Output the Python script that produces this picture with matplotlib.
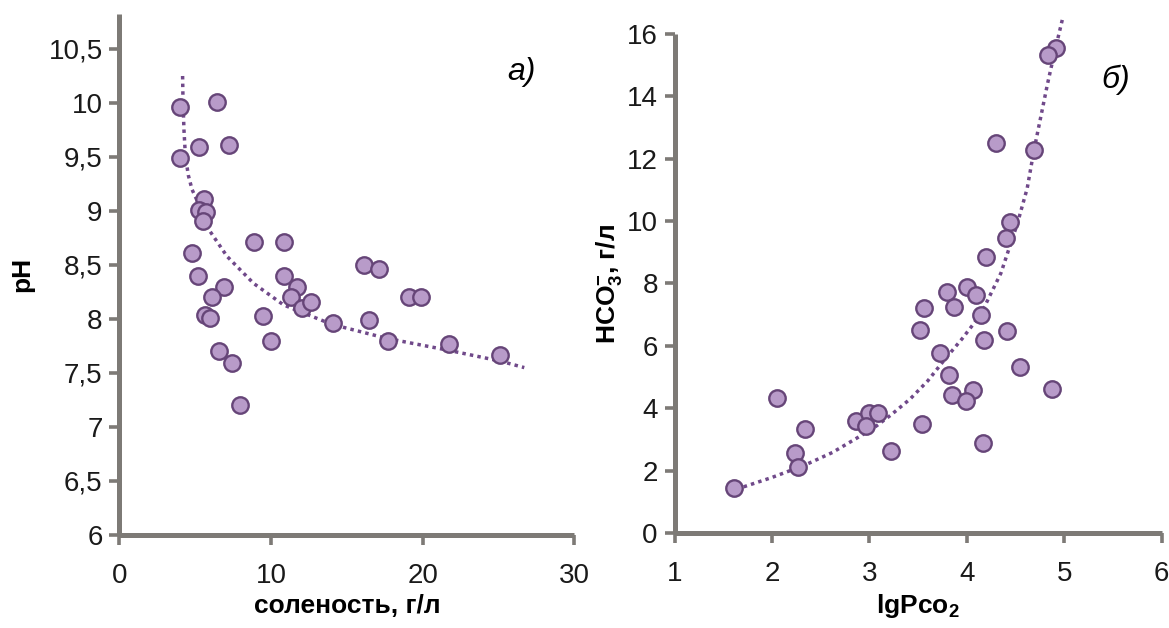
import matplotlib
matplotlib.use("Agg")
import matplotlib.pyplot as plt

plt.rcParams['font.family'] = ['Liberation Sans', 'DejaVu Sans']
plt.rcParams['mathtext.fontset'] = 'custom'
plt.rcParams['mathtext.rm'] = 'Liberation Sans'
plt.rcParams['mathtext.bf'] = 'Liberation Sans:bold'
plt.rcParams['mathtext.it'] = 'Liberation Sans:italic'

# --- panel a: pH vs salinity ---
salinity = [4.00, 6.44, 5.23, 7.21, 4.02, 5.56, 5.23, 5.74, 5.52, 8.85,
            10.83, 4.79, 5.16, 10.88, 6.88, 11.71, 6.11, 11.32, 5.67, 6.00,
            12.04, 9.45, 10.02, 6.55, 7.43, 7.93, 12.66, 14.06, 16.11, 17.09,
            16.48, 19.07, 19.89, 17.69, 21.71, 25.12]
ph = [9.96, 10.01, 9.59, 9.61, 9.49, 9.11, 9.01, 8.99, 8.91, 8.71,
      8.71, 8.61, 8.40, 8.40, 8.30, 8.30, 8.20, 8.20, 8.04, 8.01,
      8.10, 8.03, 7.80, 7.70, 7.59, 7.20, 8.16, 7.96, 8.50, 8.46,
      7.99, 8.20, 8.20, 7.80, 7.77, 7.67]

trend_a_x = [4.17, 4.20, 4.26, 4.36, 4.55, 4.79, 5.34, 5.89, 7.10, 8.85,
             10.83, 14.02, 17.65, 21.71, 25.12, 26.70]
trend_a_y = [10.25, 10.00, 9.75, 9.50, 9.33, 9.20, 9.03, 8.83, 8.58, 8.33,
             8.13, 7.95, 7.82, 7.71, 7.61, 7.55]

ph_ticks = [6, 6.5, 7, 7.5, 8, 8.5, 9, 9.5, 10, 10.5]
ph_labels = ['6', '6,5', '7', '7,5', '8', '8,5', '9', '9,5', '10', '10,5']
sal_ticks = [0, 10, 20, 30]

# --- panel b: HCO3 vs lgPco2 ---
lgpco2 = [1.615, 2.051, 2.335, 2.240, 2.267, 2.864, 2.994, 3.090, 2.970, 3.217,
          4.915, 4.829, 4.304, 4.690, 4.445, 4.400, 4.194, 3.793, 3.999, 4.092,
          3.868, 3.560, 4.143, 3.519, 4.410, 4.177, 3.721, 4.547, 3.817, 4.068,
          3.852, 3.996, 4.870, 3.543, 4.167]
hco3 = [1.43, 4.34, 3.32, 2.57, 2.13, 3.59, 3.86, 3.84, 3.43, 2.63,
        15.54, 15.33, 12.49, 12.28, 9.98, 9.45, 8.86, 7.72, 7.88, 7.63,
        7.24, 7.20, 6.99, 6.51, 6.48, 6.19, 5.78, 5.33, 5.07, 4.58,
        4.42, 4.23, 4.62, 3.48, 2.90]

trend_b_x = [1.71, 2.00, 2.34, 2.62, 2.87, 3.05, 3.22, 3.42, 3.60, 3.77,
             3.95, 4.14, 4.35, 4.52, 4.62, 4.69, 4.76, 4.83, 4.90, 4.98]
trend_b_y = [1.48, 1.78, 2.18, 2.58, 3.04, 3.38, 3.78, 4.30, 4.88, 5.55,
             6.22, 6.99, 8.33, 9.93, 11.05, 12.28, 13.35, 14.42, 15.40, 16.45]

hco3_ticks = [0, 2, 4, 6, 8, 10, 12, 14, 16]
pco2_ticks = [1, 2, 3, 4, 5, 6]

axis_gray = '#7d7a76'
fill_col = '#b89bc9'
edge_col = '#664578'
line_col = '#70498a'

fig = plt.figure(figsize=(11.69, 6.28), dpi=100)
ax1 = fig.add_axes([0.1021, 0.1481, 0.3892, 0.8296])
ax2 = fig.add_axes([0.5770, 0.1513, 0.4167, 0.7946])


def style(ax):
    for s in ('top', 'right'):
        ax.spines[s].set_visible(False)
    for s in ('left', 'bottom'):
        ax.spines[s].set_color(axis_gray)
        ax.spines[s].set_linewidth(3.6)
        ax.spines[s].set_capstyle('butt')
    ax.tick_params(axis='both', direction='out', length=7, width=2.6,
                   color=axis_gray, labelsize=20, labelcolor='#1a1a1a')
    ax.tick_params(axis='x', pad=13)
    ax.tick_params(axis='y', pad=5)
    ax.set_facecolor('none')


style(ax1)
ax1.plot(trend_a_x, trend_a_y, color=line_col, lw=2.5,
         linestyle=(0, (1, 1.2)), dash_capstyle='butt', zorder=2, clip_on=False)
ax1.scatter(salinity, ph, s=140, color=fill_col, edgecolor=edge_col,
            linewidth=1.7, zorder=3, clip_on=False)
ax1.set_xlim(0, 30)
ax1.set_ylim(6, 10.824)
ax1.set_xticks(sal_ticks)
ax1.set_xticklabels([str(t) for t in sal_ticks])
ax1.set_yticks(ph_ticks)
ax1.set_yticklabels(ph_labels)
ax1.set_xlabel('соленость, г/л', fontsize=19, fontweight='bold', labelpad=4)
ax1.set_ylabel('pH', fontsize=19, fontweight='bold', labelpad=10)
ax1.text(0.914, 0.889, 'а)', transform=ax1.transAxes, fontsize=23,
         style='italic', ha='right', va='center')

style(ax2)
ax2.plot(trend_b_x, trend_b_y, color=line_col, lw=2.5,
         linestyle=(0, (1, 1.2)), dash_capstyle='butt', zorder=2, clip_on=False)
ax2.scatter(lgpco2, hco3, s=140, color=fill_col, edgecolor=edge_col,
            linewidth=1.7, zorder=3, clip_on=False)
ax2.set_xlim(1, 6)
ax2.set_ylim(0, 16)
ax2.set_xticks(pco2_ticks)
ax2.set_xticklabels([str(t) for t in pco2_ticks])
ax2.set_yticks(hco3_ticks)
ax2.set_yticklabels([str(t) for t in hco3_ticks])
ax2.set_xlabel(r'lgPco$_\mathbf{2}$', fontsize=19, fontweight='bold', labelpad=4)
ax2.set_ylabel(r'HCO$_\mathbf{3}^{\mathbf{-}}$, г/л', fontsize=19,
               fontweight='bold', labelpad=2)
ax2.text(0.935, 0.908, 'б)', transform=ax2.transAxes, fontsize=23,
         style='italic', ha='right', va='center')

fig.savefig('out.png', dpi=100, facecolor='white')
